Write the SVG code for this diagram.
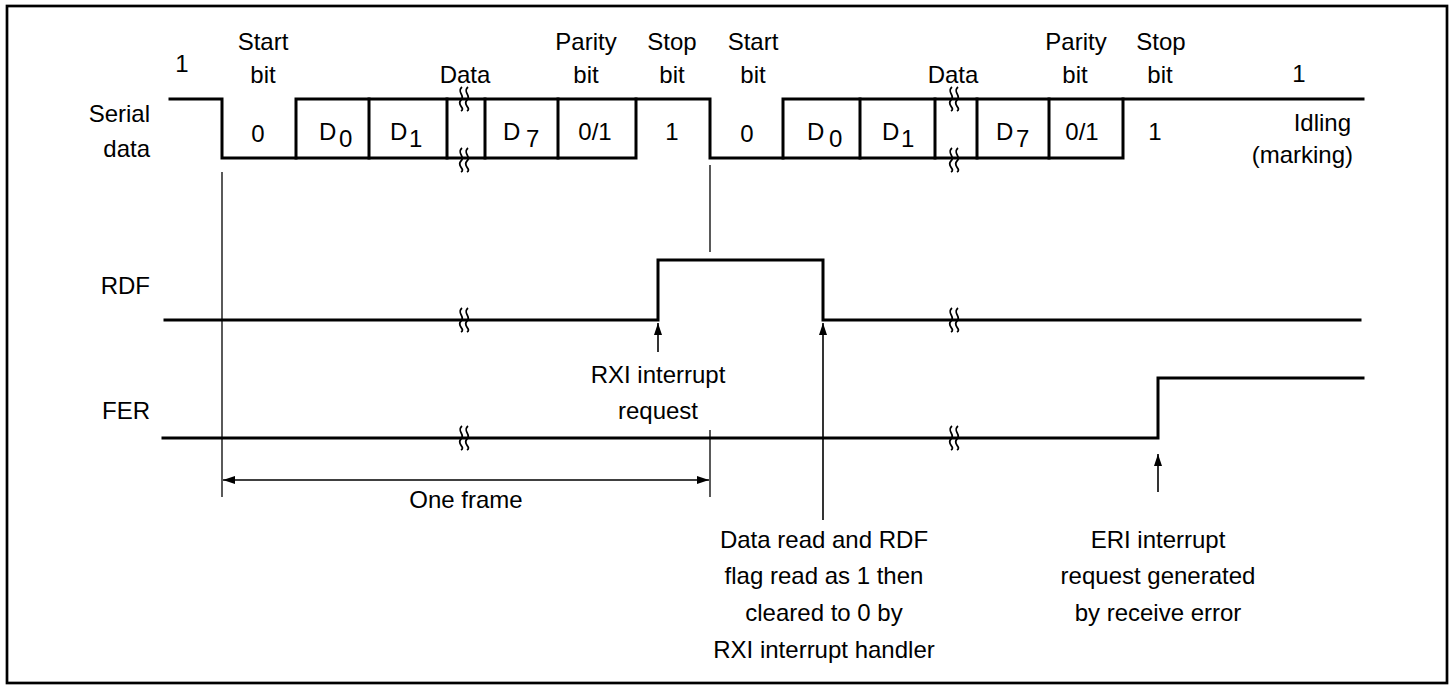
<svg xmlns="http://www.w3.org/2000/svg" width="1453" height="689" viewBox="0 0 1453 689">
<defs>
<style>
.sig{fill:none;stroke:#000;stroke-width:3;stroke-linejoin:miter;stroke-linecap:square}
.thin{fill:none;stroke:#000;stroke-width:1.3}
.arr{fill:none;stroke:#000;stroke-width:1.6}
.sq{fill:none;stroke:#000;stroke-width:1.8}
text{font-family:"Liberation Sans",Arial,sans-serif;font-size:24px;fill:#000}
.c{text-anchor:middle}
.r{text-anchor:end}
</style>
<marker id="ah" viewBox="0 0 12 8" refX="12" refY="4" markerWidth="12" markerHeight="8" orient="auto-start-reverse" markerUnits="userSpaceOnUse"><path d="M0,0 L12,4 L0,8 z" fill="#000"/></marker>
<g id="brk"><path class="sq" d="M-1,-12 C-7,-7 3,-3 -2,1 C-7,6 3,9 -2,12"/><path class="sq" d="M5,-12 C-1,-7 9,-3 4,1 C-1,6 9,9 4,12"/></g>
</defs>
<rect x="7" y="6" width="1440" height="677" fill="#fff" stroke="#000" stroke-width="2.7"/>

<g id="serial-data">
<path class="sig" d="M170,99 H222 V158 H636 V99"/>
<path class="sig" d="M296,158 V99 H710 V158 H1123 V99"/>
<path class="sig" d="M783,158 V99 H1363"/>
<path class="sig" d="M369,99 V158 M447,99 V158 M485,99 V158 M558,99 V158 M860,99 V158 M935,99 V158 M977,99 V158 M1049,99 V158"/>
<use href="#brk" x="463" y="99"/><use href="#brk" x="463" y="160"/>
<use href="#brk" x="953" y="99"/><use href="#brk" x="953" y="160"/>
<text class="r" x="150" y="122">Serial</text>
<text class="r" x="150" y="157">data</text>
<text class="c" x="182" y="72">1</text>
<text class="c" x="263" y="50">Start</text>
<text class="c" x="263" y="83">bit</text>
<text class="c" x="465" y="83">Data</text>
<text class="c" x="586" y="50">Parity</text>
<text class="c" x="586" y="83">bit</text>
<text class="c" x="672" y="50">Stop</text>
<text class="c" x="672" y="83">bit</text>
<text class="c" x="753" y="50">Start</text>
<text class="c" x="753" y="83">bit</text>
<text class="c" x="953" y="83">Data</text>
<text class="c" x="1076" y="50">Parity</text>
<text class="c" x="1075" y="83">bit</text>
<text class="c" x="1161" y="50">Stop</text>
<text class="c" x="1160" y="83">bit</text>
<text class="c" x="1299" y="82">1</text>
<text class="c" x="258" y="142">0</text>
<text x="319" y="140">D<tspan x="339" y="147">0</tspan></text>
<text x="390" y="140">D<tspan x="409" y="147">1</tspan></text>
<text x="503" y="140">D<tspan x="526" y="147">7</tspan></text>
<text class="c" x="595" y="140">0/1</text>
<text class="c" x="672" y="140">1</text>
<text class="c" x="747" y="142">0</text>
<text x="807" y="140">D<tspan x="829" y="147">0</tspan></text>
<text x="882" y="140">D<tspan x="901" y="147">1</tspan></text>
<text x="996" y="140">D<tspan x="1016" y="147">7</tspan></text>
<text class="c" x="1082" y="140">0/1</text>
<text class="c" x="1155" y="140">1</text>
<text class="r" x="1351" y="131">Idling</text>
<text class="r" x="1353" y="163">(marking)</text>
</g>

<g id="rdf">
<path class="sig" d="M165,320 H658 V260 H823 V320 H1360"/>
<use href="#brk" x="463" y="320"/><use href="#brk" x="953" y="320"/>
<text class="r" x="150" y="294">RDF</text>
</g>

<g id="fer">
<path class="sig" d="M163,438 H1158 V378 H1363"/>
<use href="#brk" x="463" y="438"/><use href="#brk" x="953" y="438"/>
<text class="r" x="150" y="419">FER</text>
</g>

<g id="connectors">
<path class="thin" d="M222,172 V497"/>
<path class="thin" d="M710,165 V252"/>
<path class="thin" d="M710,430 V497"/>
<path class="arr" d="M223,480 H709" marker-start="url(#ah)" marker-end="url(#ah)"/>
<path class="arr" d="M658,352 V323" marker-end="url(#ah)"/>
<path class="arr" d="M823,520 V323" marker-end="url(#ah)"/>
<path class="arr" d="M1158,492 V454" marker-end="url(#ah)"/>
</g>

<g id="labels">
<text class="c" x="658" y="383">RXI interrupt</text>
<text class="c" x="658" y="419">request</text>
<text class="c" x="466" y="508">One frame</text>
<text class="c" x="824" y="548">Data read and RDF</text>
<text class="c" x="824" y="584">flag read as 1 then</text>
<text class="c" x="824" y="621">cleared to 0 by</text>
<text class="c" x="824" y="658">RXI interrupt handler</text>
<text class="c" x="1158" y="548">ERI interrupt</text>
<text class="c" x="1158" y="584">request generated</text>
<text class="c" x="1158" y="621">by receive error</text>
</g>
</svg>
